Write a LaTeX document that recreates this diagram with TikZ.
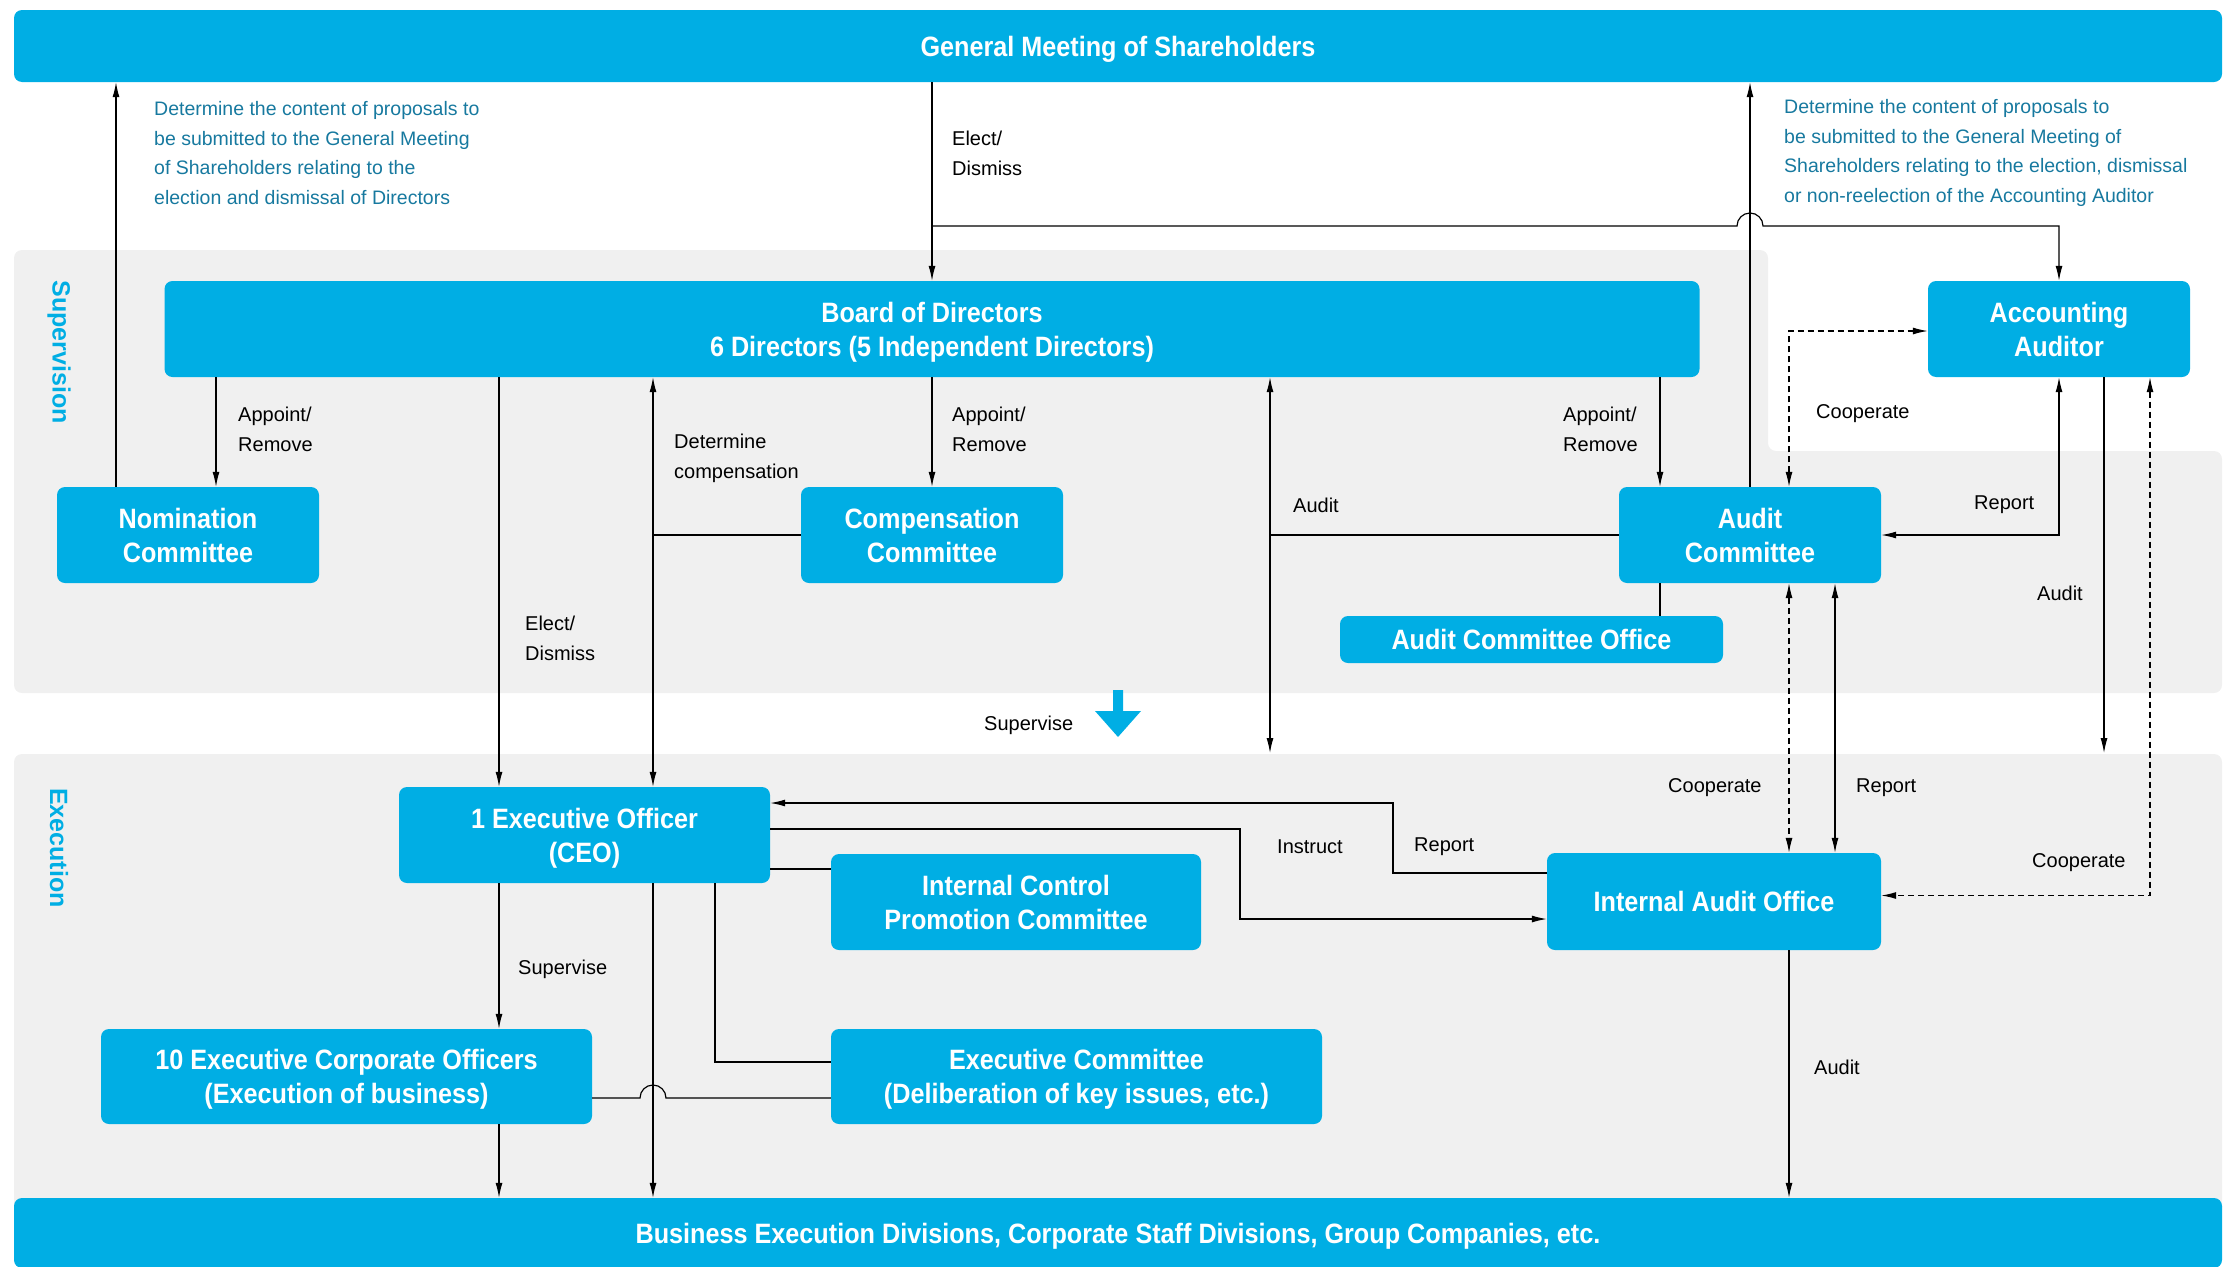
\documentclass[tikz,border=0pt]{standalone}
\usepackage{fontspec}
\setmainfont{Liberation Sans}[BoldFeatures={FakeStretch=0.9}]
\newfontfamily\sidefont{Liberation Sans}
\usepackage{xcolor}
\definecolor{orgBlue}   {HTML}{00AEE4}
\definecolor{noteBlue}  {HTML}{17799F}
\definecolor{bandGrey}  {HTML}{F0F0F0}
\usetikzlibrary{arrows.meta, calc}

\begin{document}
\begin{tikzpicture}[x=1pt, y=-1pt,
    org/.style={fill=orgBlue, rounded corners=8pt, text=white, align=center,
                font=\bfseries\fontsize{28}{34}\selectfont, inner sep=0pt, text depth=0pt},
    band/.style={fill=bandGrey, rounded corners=8pt},
    side/.style={text=orgBlue, font=\sidefont\bfseries\fontsize{25}{30}\selectfont, rotate=-90},
    lbl/.style={font=\fontsize{20}{30}\selectfont, align=left, anchor=west, inner sep=0pt},
    note/.style={lbl, text=noteBlue, font=\fontsize{19.5}{29.5}\selectfont},
    plain/.style={line width=1.2pt},
    link/.style={plain, -{Latex[length=15pt, width=7pt]}},
    both/.style={plain, {Latex[length=15pt, width=7pt]}-{Latex[length=15pt, width=7pt]}},
    coop/.style={both, dash pattern=on 6pt off 4pt}
]
\useasboundingbox (0,0) rectangle (2229,1266);
% Bands
\fill[band] (14,250) -- (1768,250) -- (1768,451) -- (2222,451) -- (2222,693) -- (14,693) -- cycle;
\fill[band] (14,754) rectangle (2222,1215);
\node[side] (sup) at (59,352) {Supervision};
\node[side] (exe) at (59,848) {Execution};
% Columns of the connectors
\coordinate (cA) at (116,0);
\coordinate (cB) at (216,0);
\coordinate (cC) at (499,0);
\coordinate (cD) at (653,0);
\coordinate (cF) at (715,0);
\coordinate (cG) at (1270,0);
\coordinate (cH) at (1660,0);
\coordinate (cI) at (1789,0);
\coordinate (cJ) at (1835,0);
\coordinate (cK) at (2104,0);
\coordinate (cL) at (2150,0);
% Top and bottom
\node[org, minimum width=2208pt, minimum height=72pt] (gms) at (1118,46) {General Meeting of Shareholders};
\node[org, minimum width=2208pt, minimum height=70pt] (biz) at (1118,1233) {Business Execution Divisions, Corporate Staff Divisions, Group Companies, etc.};
% Supervision
\node[org, minimum width=1535pt, minimum height=96pt] (board) at (932,329) {Board of Directors\\6 Directors (5 Independent Directors)};
\node[org, minimum width=262pt, minimum height=96pt] (acct) at (2059,329) {Accounting\\Auditor};
\node[org, minimum width=262pt, minimum height=96pt] (nomin) at (188,535) {Nomination\\Committee};
\node[org, minimum width=262pt, minimum height=96pt] (comp) at (932,535) {Compensation\\Committee};
\node[org, minimum width=262pt, minimum height=96pt] (audit) at (1750,535) {Audit\\Committee};
\node[org, minimum width=383pt, minimum height=47pt] (aco) at (1531.5,639.5) {Audit Committee Office};
% Execution
\node[org, minimum width=371pt, minimum height=96pt] (ceo) at (584.5,835) {1 Executive Officer\\(CEO)};
\node[org, minimum width=370pt, minimum height=96pt] (icpc) at (1016,902) {Internal Control\\Promotion Committee};
\node[org, minimum width=334pt, minimum height=97pt] (iao) at (1714,901.5) {Internal Audit Office};
\node[org, minimum width=491pt, minimum height=95pt] (eco) at (346.5,1076.5) {10 Executive Corporate Officers\\(Execution of business)};
\node[org, minimum width=491pt, minimum height=95pt] (exco) at (1076.5,1076.5) {Executive Committee\\(Deliberation of key issues, etc.)};
% Notes
\node[note] (noteL) at (154,153) {Determine the content of proposals to\\be submitted to the General Meeting\\of Shareholders relating to the\\election and dismissal of Directors};
\node[note] (noteR) at (1784,153) {Determine the content of proposals to\\be submitted to the General Meeting of\\Shareholders relating to the election, dismissal\\or non-reelection of the Accounting Auditor};
% Shareholders
\draw[link] (nomin.north -| cA) -- (gms.south -| cA);
\draw[link] (gms.south -| board.north) -- (board.north);
\node[lbl] (lElect) at (952,153) {Elect/\\Dismiss};
\coordinate (split) at (932,226);
\draw[link] (split) -- ($(split -| audit.north)+(-13,0)$) arc[start angle=180, end angle=0, radius=13pt]
    -- (split -| acct.north) -- (acct.north);
\draw[link] (audit.north) -- (audit.north |- gms.south);
% Board
\draw[link] (board.south -| cB) -- (nomin.north -| cB);
\node[lbl] (lAppN) at (238,429) {Appoint/\\Remove};
\draw[link] (board.south -| cC) -- (ceo.north -| cC);
\node[lbl] (lElectC) at (525,638) {Elect/\\Dismiss};
\draw[both] (board.south -| cD) -- (ceo.north -| cD);
\draw[plain] (comp.west) -- (comp.west -| cD);
\node[lbl] (lComp) at (674,458) {Determine\\compensation};
\draw[link] (board.south -| comp.north) -- (comp.north);
\node[lbl] (lAppC) at (952,429) {Appoint/\\Remove};
\coordinate (auditEnd) at (1270,753);
\draw[both] (board.south -| cG) -- (auditEnd);
\draw[plain] (audit.west) -- (audit.west -| cG);
\node[lbl] (lAudB) at (1293,505) {Audit};
\draw[link] (board.south -| cH) -- (audit.north -| cH);
\node[lbl] (lAppA) at (1563,429) {Appoint/\\Remove};
% Accounting Auditor
\draw[coop] (audit.north -| cI) |- ([yshift=-2pt]acct.west);
\node[lbl] (lCoopA) at (1816,414) {Cooperate};
\draw[both] (audit.east) -| (acct.south);
\node[lbl] (lRepA) at (1974,505) {Report};
\coordinate (acctEnd) at (2104,753);
\draw[link] (acct.south -| cK) -- (acctEnd);
\node[lbl] (lAudA) at (2037,593) {Audit};
\draw[coop] (acct.south -| cL) |- ([yshift=6pt]iao.east);
\node[lbl] (lCoopI) at (2032,863) {Cooperate};
% Audit Committee
\draw[plain] (audit.south -| cH) -- (aco.north -| cH);
\draw[coop] (audit.south -| cI) -- (iao.north -| cI);
\node[lbl] (lCoopB) at (1668,788) {Cooperate};
\draw[both] (audit.south -| cJ) -- (iao.north -| cJ);
\node[lbl] (lRepB) at (1856,788) {Report};
% Supervise arrow
\fill[orgBlue] (1113,690) -- (1123,690) -- (1123,711) -- (1141,711) -- (1118,737)
    -- (1095,711) -- (1113,711) -- cycle;
\node[lbl] (lSup) at (984,725) {Supervise};
% Internal Audit Office
\coordinate (rRep) at (1393,803);
\draw[link] ([yshift=28.5pt]iao.west) -| (rRep) -- (rRep -| ceo.east);
\node[lbl] (lRepI) at (1414,847) {Report};
\coordinate (rIns) at (1240,829);
\draw[link] (rIns -| ceo.east) -- (rIns) |- ([yshift=-17.5pt]iao.west);
\node[lbl] (lIns) at (1277,847) {Instruct};
\draw[link] (iao.south -| cI) -- (biz.north -| cI);
\node[lbl] (lAudI) at (1814,1067) {Audit};
% CEO
\draw[plain] ([yshift=33pt]icpc.west) -- ([yshift=33pt]icpc.west -| ceo.east);
\draw[link] (ceo.south -| cC) -- (eco.north -| cC);
\node[lbl] (lSupC) at (518,969) {Supervise};
\draw[link] (ceo.south -| cD) -- (biz.north -| cD);
\draw[plain] (ceo.south -| cF) |- ([yshift=14.5pt]exco.west);
\draw[plain] ([yshift=-21.5pt]eco.east) -- ($([yshift=-21.5pt]eco.east -| cD)+(-13,0)$)
    arc[start angle=180, end angle=0, radius=13pt] -- ([yshift=-21.5pt]exco.west);
\draw[link] (eco.south -| cC) -- (biz.north -| cC);
\end{tikzpicture}
\end{document}
